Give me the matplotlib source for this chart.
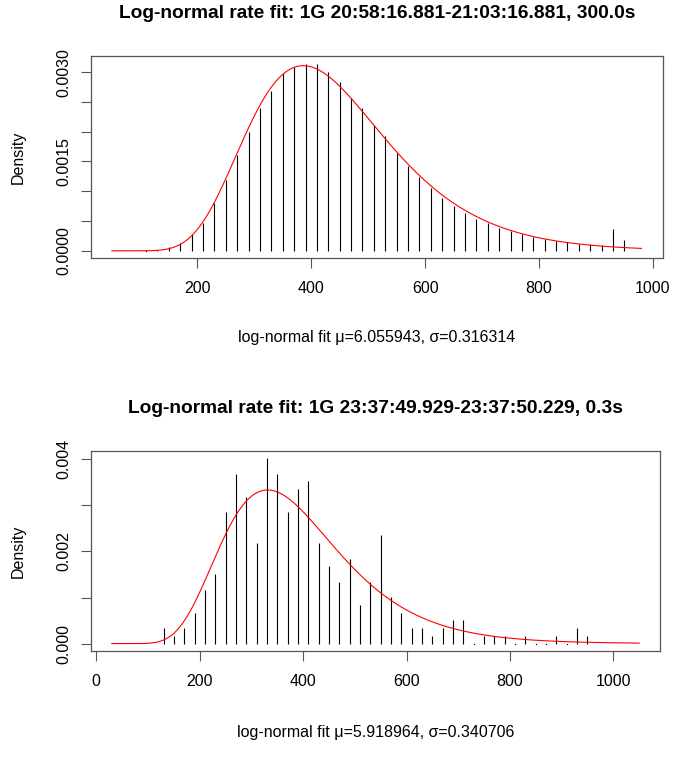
import numpy as np
import matplotlib
matplotlib.use("Agg")
import matplotlib.pyplot as plt

plt.rcParams["font.family"] = ["Liberation Sans", "DejaVu Sans"]

# panel 1: 1G 20:58:16.881-21:03:16.881, 300.0s
rate1 = [110, 130, 150, 170, 190, 210, 230, 250, 270, 290, 310, 330, 350, 370,
         390, 410, 430, 450, 470, 490, 510, 530, 550, 570, 590, 610, 630, 650,
         670, 690, 710, 730, 750, 770, 790, 810, 830, 850, 870, 890, 910, 930, 950]
dens1 = [0.0, 0.00002, 0.000056, 0.000135, 0.00028, 0.00047, 0.0008, 0.00119,
         0.00161, 0.0020, 0.00239, 0.00268, 0.00298, 0.00308, 0.00314, 0.00313,
         0.0030, 0.00283, 0.00256, 0.00239, 0.00211, 0.00192, 0.00165, 0.00142,
         0.00124, 0.00105, 0.00089, 0.00076, 0.00064, 0.00054, 0.00047, 0.00039,
         0.00033, 0.00029, 0.00024, 0.0002, 0.00017, 0.00015, 0.00012, 0.00011,
         0.0001, 0.00036, 0.00018]
mu1, sigma1 = 6.055943, 0.316314
curve1 = (50, 980)
title1 = "Log-normal rate fit: 1G 20:58:16.881-21:03:16.881, 300.0s"

# panel 2: 1G 23:37:49.929-23:37:50.229, 0.3s
rate2 = [130, 150, 170, 190, 210, 230, 250, 270, 290, 310, 330, 350, 370, 390,
         410, 430, 450, 470, 490, 510, 530, 550, 570, 590, 610, 630, 650, 670,
         690, 710, 730, 750, 770, 790, 810, 830, 850, 870, 890, 910, 930, 950]
dens2 = [0.00033, 0.00016, 0.00033, 0.00067, 0.00117, 0.00151, 0.00285, 0.00369,
         0.00318, 0.00218, 0.00402, 0.00369, 0.00285, 0.00335, 0.00352, 0.00218,
         0.00168, 0.00134, 0.00184, 0.00084, 0.00134, 0.00235, 0.00101, 0.00067,
         0.00034, 0.00034, 0.00017, 0.00034, 0.00051, 0.00051, 0.0, 0.00017,
         0.00017, 0.00017, 0.0, 0.00017, 0.0, 0.0, 0.00017, 0.0, 0.00034, 0.00017]
mu2, sigma2 = 5.918964, 0.340706
curve2 = (30, 1050)
title2 = "Log-normal rate fit: 1G 23:37:49.929-23:37:50.229, 0.3s"

W, H = 673, 758
fig = plt.figure(figsize=(W / 100, H / 100), dpi=100)


def lnorm_pdf(x, mu, sigma):
    return np.exp(-(np.log(x) - mu) ** 2 / (2 * sigma ** 2)) / (x * sigma * np.sqrt(2 * np.pi))


def panel(box, rate, dens, mu, sigma, crange, title, ystep, ylab_every, yfmt, title_y, xlab_y):
    left, top, right, bottom = box
    ax = fig.add_axes([left / W, 1 - bottom / H, (right - left) / W, (bottom - top) / H])
    rate = np.array(rate)
    dens = np.array(dens)
    xs = np.linspace(crange[0], crange[1], 400)
    ys = lnorm_pdf(xs, mu, sigma)

    # histogram density drawn R type="h" style
    ax.vlines(rate[dens > 0], 0, dens[dens > 0], color="black", lw=0.8)
    ax.plot(rate[dens == 0], dens[dens == 0], "s", color="black", ms=0.8, mew=0)
    ax.plot(xs, ys, color="red", lw=0.8)

    # R style 4% axis expansion
    x0, x1 = crange
    pad = 0.04 * (x1 - x0)
    ax.set_xlim(x0 - pad, x1 + pad)
    ymax = max(dens.max(), ys.max())
    ax.set_ylim(-0.04 * ymax, 1.04 * ymax)

    ax.set_xticks(np.arange(0, 1001, 200) if x0 < 40 else np.arange(200, 1001, 200))
    yt = np.arange(0, ymax + 1e-9, ystep)
    ax.set_yticks(yt)
    ax.set_yticklabels([yfmt % v if i % ylab_every == 0 else "" for i, v in enumerate(yt)],
                       rotation=90, va="center")
    ax.tick_params(direction="out", length=7.2, width=0.8, color="#555555",
                   labelsize=11.5, pad=9)
    ax.tick_params(axis="y", pad=7)
    for s in ax.spines.values():
        s.set_color("#555555")
        s.set_linewidth(0.9)

    cx = (left + right) / 2 / W
    fig.text(cx, 1 - title_y / H, title, ha="center", va="center",
             fontsize=13.8, fontweight="bold")
    fig.text(cx, 1 - xlab_y / H, "log-normal fit μ=%f, σ=%f" % (mu, sigma),
             ha="center", va="center", fontsize=11.5)
    fig.text(18 / W, 1 - (top + bottom) / 2 / H, "Density", rotation=90,
             ha="center", va="center", fontsize=11.5)
    return ax


panel((90.7, 56.3, 662.7, 258.3), rate1, dens1, mu1, sigma1, curve1, title1,
      0.0005, 3, "%.4f", 13, 338)
panel((90.7, 451, 660.3, 651), rate2, dens2, mu2, sigma2, curve2, title2,
      0.001, 2, "%.3f", 408, 733)

fig.savefig("out.png", dpi=100)
